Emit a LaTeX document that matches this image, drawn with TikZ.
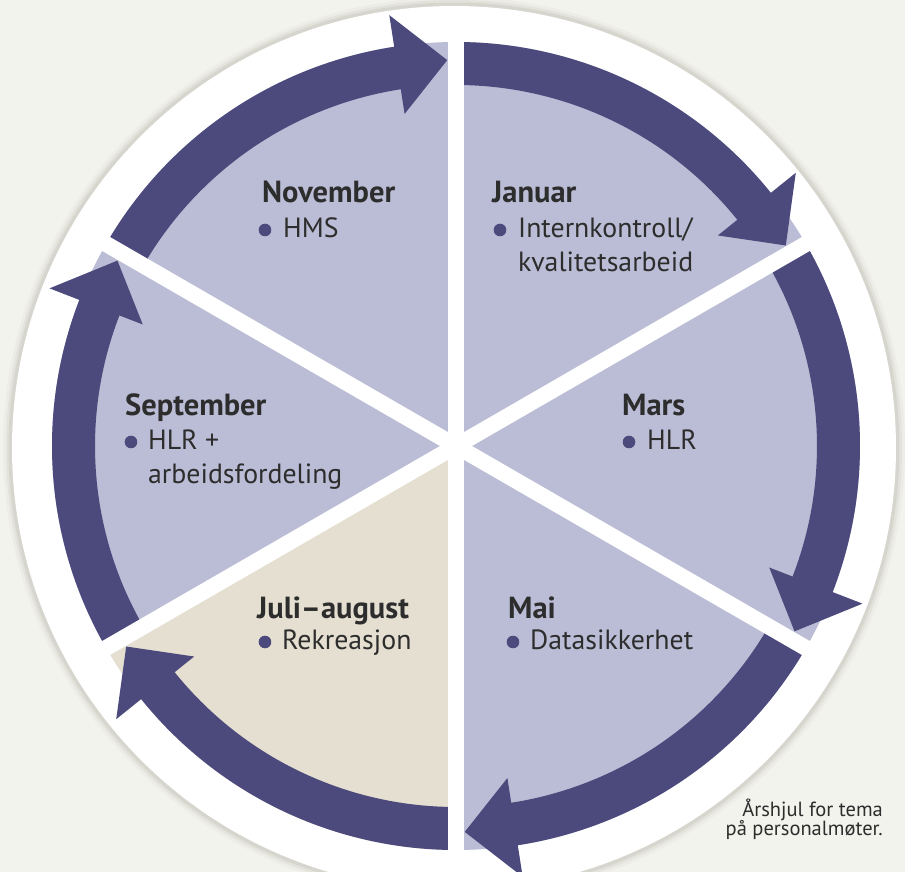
\documentclass[tikz,border=0pt]{standalone}
\usepackage{fontspec}
\setmainfont{PT Sans}
\definecolor{bg}{RGB}{243,243,237}
\definecolor{shadowc}{RGB}{200,200,190}
\definecolor{lav}{RGB}{186,189,213}
\definecolor{beige}{RGB}{228,223,208}
\definecolor{arrowc}{RGB}{76,74,125}
\definecolor{txt}{RGB}{45,45,45}
\tikzset{
  month/.style={font=\bfseries\fontsize{30.5}{34}\selectfont, text=txt, anchor=base west, inner sep=0pt},
  item/.style={font=\fontsize{27.8}{34}\selectfont, text=txt, anchor=base west, inner sep=0pt},
  bulletdot/.style={fill=arrowc},
  caption/.style={font=\fontsize{20.5}{20}\selectfont, text=txt, anchor=base east, inner sep=0pt}
}
\begin{document}
\begin{tikzpicture}[x=1pt,y=1pt]
\useasboundingbox (-456,-426) rectangle (449,446);
\fill[bg] (-456,-426) rectangle (449,446);
% disk with soft shadow
\foreach \r/\o in {451/0.12, 448/0.25, 445.5/0.45}
  \fill[shadowc, opacity=\o] (-2,-2) circle[radius=\r];
\fill[white] (-2,-2) circle[radius=442];
% sectors
\foreach \a/\c in {90/lav,30/lav,-30/lav,-90/lav,-150/beige,150/lav}
  \fill[\c] (0,0) -- (\a:404) arc[start angle=\a, end angle=\a+60, radius=404] -- cycle;
% arrow bands and heads (clockwise)
\foreach \e in {90,30,-30,-90,-150,150}{
  \fill[arrowc] (\e+60:404) arc[start angle=\e+60, end angle=\e+8.5, radius=404]
     -- (\e+8.5:361) arc[start angle=\e+8.5, end angle=\e+60, radius=361] -- cycle;
  \fill[arrowc] (\e+8.8:436) -- (\e+1.3:386) -- (\e+8.8:336) -- cycle;
}
% white gaps
\foreach \a in {90,30,-30,-90,-150,150}
  \draw[white, line width=16pt] (0,0) -- (\a:438);
% texts
\node[month] (nov) at (-194,243) {November};
\fill[bulletdot] (-191,216) circle[radius=6.3];
\node[item] (novi) at (-173,208) {HMS};
\node[month] (jan) at (36,243) {Januar};
\fill[bulletdot] (44,216) circle[radius=6.3];
\node[item] (jani) at (62,208) {Internkontroll/};
\node[item] (janii) at (62,174) {kvalitetsarbeid};
\node[month] (mar) at (166,30) {Mars};
\fill[bulletdot] (173,4) circle[radius=6.3];
\node[item] (mari) at (191,-4) {HLR};
\node[month] (sep) at (-331,30) {September};
\fill[bulletdot] (-325,4) circle[radius=6.3];
\node[item] (sepi) at (-308,-4) {HLR +};
\node[item] (sepii) at (-308,-38) {arbeidsfordeling};
\node[month] (jul) at (-199,-172) {Juli–august};
\fill[bulletdot] (-191,-196) circle[radius=6.3];
\node[item] (juli) at (-174,-204) {Rekreasjon};
\node[month] (mai) at (52,-172) {Mai};
\fill[bulletdot] (57,-196) circle[radius=6.3];
\node[item] (maii) at (74,-204) {Datasikkerhet};
\node[caption] (cap) at (427,-370) {Årshjul for tema};
\node[caption] (capii) at (427,-389) {på personalmøter.};
\end{tikzpicture}
\end{document}
